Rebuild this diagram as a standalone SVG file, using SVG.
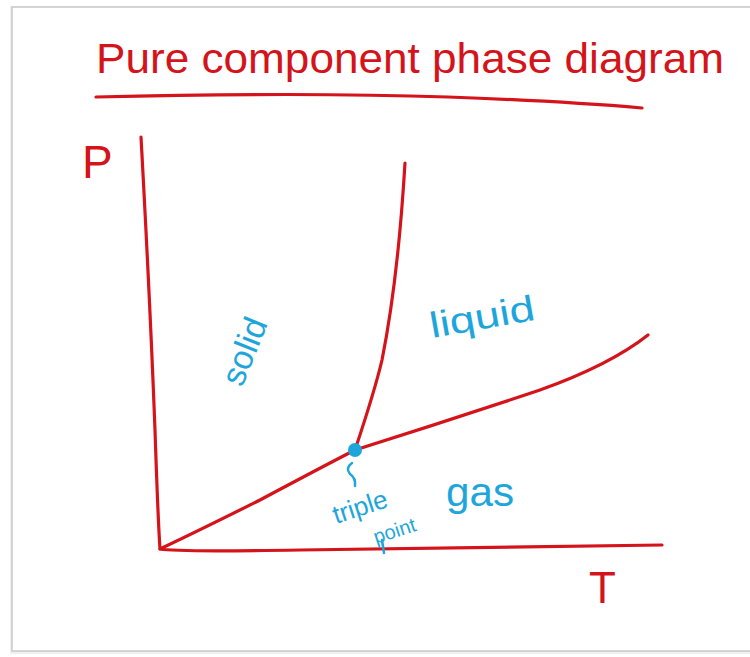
<svg xmlns="http://www.w3.org/2000/svg" width="750" height="657" viewBox="0 0 750 657">
<style>
.red{fill:none;stroke:#d4141a;stroke-width:3.2;stroke-linecap:round;stroke-linejoin:round}
.blueL{fill:none;stroke:#1ea6dc;stroke-width:2.5;stroke-linecap:round;stroke-linejoin:round}
.rt{fill:#d4141a;font-family:"Liberation Sans","DejaVu Sans",sans-serif}
.bt{fill:#1ea6dc;font-family:"Liberation Sans","DejaVu Sans",sans-serif}
</style>
<rect x="0" y="0" width="750" height="657" fill="#ffffff"/>
<g id="card">
<rect x="10" y="6" width="750" height="648" fill="#f0f0f0"/>
<rect x="12" y="7" width="740" height="644" fill="#ffffff" stroke="#c8c8c8" stroke-width="1.5"/>
</g>
<g id="title">
<text class="rt" x="96" y="73" font-size="42" textLength="628" lengthAdjust="spacingAndGlyphs">Pure component phase diagram</text>
<path class="red" d="M96,97 Q300,92 448,97 Q560,101 642,108"/>
</g>
<g id="axes">
<text class="rt" x="82" y="178" font-size="46">P</text>
<text class="rt" x="589" y="603" font-size="44">T</text>
</g>
<g id="connectors">
<path id="p-axis" class="red" d="M141,137 Q150,300 155,430 Q158,520 160,549"/>
<path id="t-axis" class="red" d="M160,549 Q175,552 300,550 Q500,547 662,545"/>
<path id="sublimation" class="red" d="M162,548 Q200,530 260,500 Q320,468 355,450"/>
<path id="melting" class="red" d="M355,450 Q375,390 382,360 Q398,280 405,163"/>
<path id="vaporization" class="red" d="M355,450 Q450,420 540,390 Q610,365 648,335"/>
<path class="blueL" d="M352,463 Q345,468 350,474 Q356,478 355,486"/>
<path class="blueL" d="M382,540 L384,553"/>
</g>
<g id="triple-point">
<circle cx="355" cy="450" r="7" fill="#1ea6dc"/>
<text class="bt" font-size="26" transform="translate(336,524) rotate(-18)">triple</text>
<text class="bt" font-size="20" transform="translate(376,544) rotate(-18)">point</text>
</g>
<g id="solid">
<text class="bt" font-size="34" transform="translate(242,388) rotate(-68)">solid</text>
</g>
<g id="liquid">
<text class="bt" font-size="36" transform="translate(432,338) rotate(-10)" textLength="106" lengthAdjust="spacingAndGlyphs">liquid</text>
</g>
<g id="gas">
<text class="bt" font-size="40" x="446" y="506" textLength="68" lengthAdjust="spacingAndGlyphs">gas</text>
</g>
</svg>
